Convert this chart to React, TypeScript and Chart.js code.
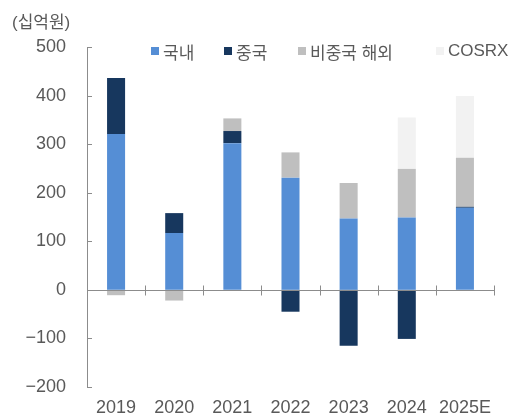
import React, { useEffect, useRef } from "react";
import { Chart, registerables } from "chart.js";

Chart.register(...registerables);

const categories = ["2019", "2020", "2021", "2022", "2023", "2024", "2025E"];
const domestic = [321, 117, 302, 231, 147, 149, 169];
const china = [115, 41, 25, -45, -115, -101, 2];
const overseasExChina = [-11, -22, 26, 52, 73, 100, 101];
const cosrx = [0, 0, 0, 0, 0, 106, 127];
const yTicks = [-200, -100, 0, 100, 200, 300, 400, 500];

const seriesNames = ["국내", "중국", "비중국 해외", "COSRX"];
const seriesColors = ["#558ED5", "#17375E", "#BFBFBF", "#F2F2F2"];
const unitLabel = "(십억원)";

const FONT = '"Liberation Sans", "Noto Sans CJK KR", sans-serif';
const TEXT = "#595959";
const AXIS = "#8C8C8C";

const axisDecor = {
  id: "axisDecor",
  afterDatasetsDraw(chart: any) {
    const { ctx, chartArea } = chart;
    const x = chart.scales.x;
    const y = chart.scales.y;
    ctx.save();
    ctx.strokeStyle = AXIS;
    ctx.lineWidth = 1;
    ctx.beginPath();
    const y0 = Math.round(y.getPixelForValue(0)) + 0.5;
    ctx.moveTo(chartArea.left, y0);
    ctx.lineTo(chartArea.right, y0);
    for (let i = 1; i <= categories.length; i++) {
      const px = Math.round(x.getPixelForValue(i - 0.5)) + 0.5;
      ctx.moveTo(px, y0 - 5);
      ctx.lineTo(px, y0 + 5);
    }
    y.ticks.forEach((t: any) => {
      const py = Math.round(y.getPixelForValue(t.value)) + 0.5;
      ctx.moveTo(chartArea.left, py);
      ctx.lineTo(chartArea.left + 5, py);
    });
    ctx.stroke();
    ctx.restore();
  },
};

export default function App() {
  const ref = useRef<HTMLCanvasElement | null>(null);

  useEffect(() => {
    if (!ref.current) return;
    const data = [domestic, china, overseasExChina, cosrx];
    const chart = new Chart(ref.current, {
      type: "bar",
      data: {
        labels: categories,
        datasets: data.map((d, i) => ({
          label: seriesNames[i],
          data: d,
          backgroundColor: seriesColors[i],
          borderWidth: 0,
          barPercentage: 0.31,
          categoryPercentage: 1,
        })),
      },
      options: {
        responsive: true,
        maintainAspectRatio: false,
        animation: false,
        layout: { padding: { top: 47, right: 29, bottom: 1, left: 0 } },
        plugins: {
          legend: { display: false },
          tooltip: { enabled: false },
        },
        scales: {
          x: {
            stacked: true,
            afterFit: (scale: any) => {
              scale.height = 32;
            },
            grid: { display: false, drawTicks: false },
            border: { display: false },
            ticks: {
              color: TEXT,
              padding: 10,
              font: { family: FONT, size: 18 },
              maxRotation: 0,
            },
          },
          y: {
            stacked: true,
            min: -200,
            max: 500,
            afterFit: (scale: any) => {
              scale.width = 87;
            },
            afterBuildTicks: (scale: any) => {
              scale.ticks = yTicks.map((v) => ({ value: v }));
            },
            grid: { display: false, drawTicks: false },
            border: { display: true, color: AXIS, width: 1 },
            ticks: {
              color: TEXT,
              padding: 21,
              font: { family: FONT, size: 18 },
              callback: (v: any) => (Number(v) < 0 ? "\u2212" + Math.abs(Number(v)) : String(v)),
            },
          },
        },
      },
      plugins: [axisDecor],
    });
    return () => chart.destroy();
  }, []);

  const legendLeft = [151, 224, 298, 436];

  return (
    <div style={{ position: "fixed", left: 0, top: 0, width: 523, height: 420, background: "#fff" }}>
      <canvas ref={ref} />
      <div
        style={{
          position: "absolute",
          left: 12,
          top: 12,
          fontFamily: FONT,
          fontSize: 17,
          color: TEXT,
          lineHeight: "22px",
          whiteSpace: "nowrap",
        }}
      >
        {unitLabel}
      </div>
      {seriesNames.map((name, i) => (
        <div
          key={name}
          style={{
            position: "absolute",
            left: legendLeft[i],
            top: 40,
            height: 22,
            display: "flex",
            alignItems: "center",
            fontFamily: FONT,
            fontSize: 17,
            color: TEXT,
            whiteSpace: "nowrap",
          }}
        >
          <span
            style={{
              display: "inline-block",
              width: 8,
              height: 8,
              background: seriesColors[i],
              marginRight: 4,
            }}
          />
          <span>{name}</span>
        </div>
      ))}
    </div>
  );
}
